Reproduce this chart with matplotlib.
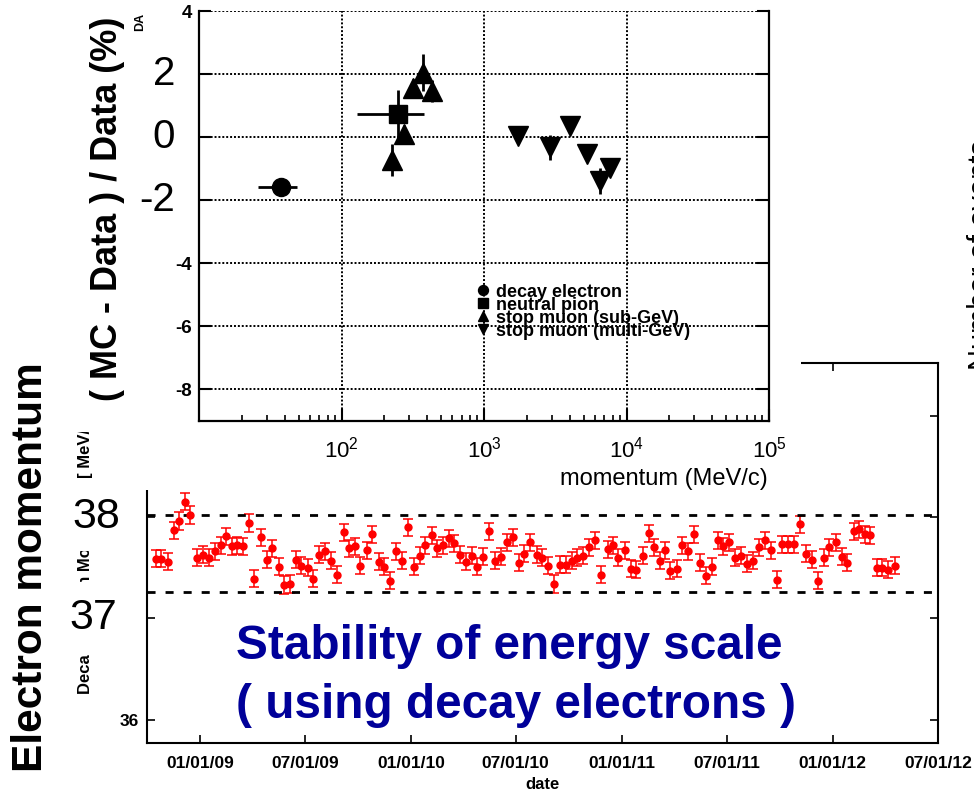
import numpy as np
import matplotlib
matplotlib.use("Agg")
import matplotlib.pyplot as plt
import matplotlib.dates as mdates
from matplotlib.patches import Rectangle
from matplotlib.transforms import blended_transform_factory

plt.rcParams['font.family'] = ['Liberation Sans', 'DejaVu Sans']
plt.rcParams['mathtext.fontset'] = 'custom'
plt.rcParams['mathtext.rm'] = 'Liberation Sans'
plt.rcParams['mathtext.it'] = 'Liberation Sans:italic'
plt.rcParams['mathtext.bf'] = 'Liberation Sans:bold'

# ---- top panel: (MC - Data)/Data vs momentum
e_p = [37.6]
e_plo = [25.9]
e_phi = [48.8]
e_d = [-1.58]
e_err = [0.15]

pi_p = [249]
pi_plo = [128.5]
pi_phi = [379]
pi_d = [0.73]
pi_err = [0.77]

sub_p = [226, 275, 318, 373, 431]
sub_d = [-0.72, 0.10, 1.55, 2.05, 1.45]
sub_err = [0.50, 0.30, 0.30, 0.60, 0.35]

mul_p = [1733, 2904, 4018, 5285, 6515, 7656]
mul_d = [0.03, -0.32, 0.35, -0.54, -1.39, -0.98]
mul_err = [0.15, 0.40, 0.20, 0.15, 0.40, 0.20]

# ---- bottom panel: decay electron momentum vs date
dates = [
    "2008-10-16", "2008-10-26", "2008-11-06", "2008-11-16", "2008-11-26", "2008-12-06", "2008-12-15", "2008-12-27",
    "2009-01-06", "2009-01-16", "2009-01-26", "2009-02-06", "2009-02-15", "2009-02-25", "2009-03-06", "2009-03-16", "2009-03-26",
    "2009-04-05", "2009-04-16", "2009-04-26", "2009-05-06", "2009-05-17", "2009-05-26", "2009-06-05", "2009-06-16", "2009-06-25",
    "2009-07-06", "2009-07-15", "2009-07-26", "2009-08-05", "2009-08-16", "2009-08-26", "2009-09-07", "2009-09-16", "2009-09-26",
    "2009-10-05", "2009-10-16", "2009-10-26", "2009-11-06", "2009-11-16", "2009-11-26", "2009-12-06", "2009-12-16", "2009-12-26",
    "2010-01-06", "2010-01-16", "2010-01-26", "2010-02-06", "2010-02-15", "2010-02-25", "2010-03-07", "2010-03-16", "2010-03-27",
    "2010-04-06", "2010-04-16", "2010-04-26", "2010-05-06", "2010-05-16", "2010-05-26", "2010-06-05", "2010-06-16", "2010-06-27",
    "2010-07-06", "2010-07-16", "2010-07-26", "2010-08-07", "2010-08-16", "2010-08-26", "2010-09-05", "2010-09-16", "2010-09-26",
    "2010-10-06", "2010-10-16", "2010-10-26", "2010-11-05", "2010-11-16", "2010-11-26", "2010-12-07", "2010-12-16", "2010-12-26",
    "2011-01-06", "2011-01-16", "2011-01-25", "2011-02-06", "2011-02-16", "2011-02-25", "2011-03-07", "2011-03-16", "2011-03-26",
    "2011-04-06", "2011-04-15", "2011-04-26", "2011-05-06", "2011-05-16", "2011-05-27", "2011-06-05", "2011-06-16", "2011-06-25",
    "2011-07-05", "2011-07-16", "2011-07-26", "2011-08-05", "2011-08-16", "2011-08-26", "2011-09-06", "2011-09-16", "2011-09-26",
    "2011-10-05", "2011-10-16", "2011-10-26", "2011-11-06", "2011-11-16", "2011-11-26", "2011-12-06", "2011-12-17", "2011-12-26",
    "2012-01-06", "2012-01-16", "2012-01-26", "2012-02-06", "2012-02-16", "2012-02-25", "2012-03-05", "2012-03-17", "2012-03-26",
    "2012-04-06", "2012-04-17"]
mom = [
    37.59, 37.59, 37.56, 37.87, 37.96, 38.15, 38.02, 37.60,
    37.63, 37.60, 37.66, 37.72, 37.81, 37.71, 37.72, 37.71, 37.94,
    37.39, 37.80, 37.58, 37.69, 37.51, 37.33, 37.34, 37.58, 37.52,
    37.50, 37.39, 37.63, 37.66, 37.57, 37.43, 37.85, 37.69, 37.71,
    37.52, 37.67, 37.83, 37.56, 37.51, 37.37, 37.66, 37.57, 37.90,
    37.51, 37.62, 37.72, 37.82, 37.69, 37.72, 37.79, 37.74, 37.63,
    37.56, 37.62, 37.51, 37.61, 37.86, 37.57, 37.61, 37.75, 37.80,
    37.55, 37.64, 37.75, 37.63, 37.60, 37.52, 37.34, 37.53, 37.53,
    37.57, 37.60, 37.62, 37.70, 37.77, 37.43, 37.68, 37.72, 37.60,
    37.67, 37.49, 37.48, 37.62, 37.84, 37.70, 37.57, 37.67, 37.47,
    37.49, 37.72, 37.66, 37.83, 37.55, 37.42, 37.51, 37.77, 37.71,
    37.75, 37.60, 37.62, 37.54, 37.57, 37.70, 37.77, 37.67, 37.38,
    37.73, 37.73, 37.73, 37.93, 37.64, 37.58, 37.37, 37.60, 37.70,
    37.75, 37.61, 37.55, 37.86, 37.88, 37.83, 37.82, 37.50, 37.50,
    37.48, 37.52]
mom_err = 0.085
band_hi = 38.02
band_lo = 37.26

W, H = 974, 795
fig = plt.figure(figsize=(W / 100, H / 100), dpi=100)


def box(x0, y0, x1, y1):
    # pixel box, origin top-left -> figure rect
    return [x0 / W, 1 - y1 / H, (x1 - x0) / W, (y1 - y0) / H]


ax2 = fig.add_axes(box(147, 363, 938, 743), zorder=0)
ax1 = fig.add_axes(box(199, 11, 769, 421), zorder=2)

# white areas of the pasted top picture
for r in [box(130, 0, 801, 490), box(60, 0, 130, 432)]:
    fig.patches.append(Rectangle((r[0], r[1]), r[2], r[3], transform=fig.transFigure,
                                 facecolor='white', edgecolor='none', zorder=1))

# ---------------- bottom panel
d = np.array(dates, dtype='datetime64[D]')
ax2.errorbar(d, mom, yerr=mom_err, fmt='o', color='red', ms=5,
             elinewidth=1.1, capsize=3.4, capthick=1.1)
ax2.axhline(band_hi, color='black', lw=2, ls=(0, (2.9, 3.6)))
ax2.axhline(band_lo, color='black', lw=2, ls=(0, (2.9, 3.6)))
ax2.set_xlim(np.datetime64('2008-10-01'), np.datetime64('2012-07-01'))
ax2.set_ylim(35.77, 39.52)
ax2.xaxis.set_major_locator(mdates.MonthLocator(bymonth=[1, 7]))
ax2.xaxis.set_major_formatter(mdates.DateFormatter('%m/%d/%y'))
ax2.set_yticks([36, 37, 38, 39])
ax2.set_yticklabels(['36', '', '', ''])
ax2.tick_params(direction='in', length=5.8, width=1.2, top=True, right=True,
                labelsize=12.5, pad=6)
ax2.tick_params(axis='x', pad=9)
for lab in ax2.get_xticklabels() + ax2.get_yticklabels():
    lab.set_fontweight('bold')
for s in ax2.spines.values():
    s.set_linewidth(1.5)
ax2.set_xlabel('date', fontsize=12, fontweight='bold', labelpad=5)
ax2.set_ylabel('Decay electron Momentum [ MeV/c ]', fontsize=12, fontweight='bold')
ax2.yaxis.set_label_coords(-0.068, 0.503)

tr2 = blended_transform_factory(ax2.transAxes, ax2.transData)
ax2.text(-0.034, 38, '38', transform=tr2, ha='right', va='center', fontsize=31,
         bbox=dict(facecolor='white', edgecolor='none', pad=10))
ax2.text(-0.038, 37, '37', transform=tr2, ha='right', va='center', fontsize=31,
         bbox=dict(facecolor='white', edgecolor='none', pad=12))

# ---------------- top panel
eb_e = ax1.errorbar(e_p, e_d, xerr=[np.subtract(e_p, e_plo), np.subtract(e_phi, e_p)],
                    yerr=e_err, fmt='o', color='black', ms=13, elinewidth=2, capsize=0)
eb_pi = ax1.errorbar(pi_p, pi_d, xerr=[np.subtract(pi_p, pi_plo), np.subtract(pi_phi, pi_p)],
                     yerr=pi_err, fmt='s', color='black', ms=13, elinewidth=2, capsize=0)
eb_sub = ax1.errorbar(sub_p, sub_d, yerr=sub_err, fmt='^', color='black', ms=14,
                      elinewidth=2, capsize=0)
eb_mul = ax1.errorbar(mul_p, mul_d, yerr=mul_err, fmt='v', color='black', ms=14,
                      elinewidth=2, capsize=0)

ax1.set_xscale('log')
ax1.set_xlim(10, 1e5)
ax1.set_ylim(-9, 4)
ax1.set_xticks([1e2, 1e3, 1e4, 1e5])
ax1.set_yticks([-8, -6, -4, -2, 0, 2, 4])
ax1.set_yticklabels(['-8', '-6', '-4', '', '', '', '4'])
ax1.grid(True, which='major', color='black', ls=(0, (1, 1)), lw=1.4)
ax1.spines['top'].set_visible(False)
for s in ['left', 'right', 'bottom']:
    ax1.spines[s].set_linewidth(1.6)
ax1.tick_params(which='major', direction='in', length=8.6, width=1.5, right=True,
                top=False, pad=5)
ax1.tick_params(which='minor', direction='in', length=4.3, width=1.2, top=False)
ax1.tick_params(axis='x', labelsize=16, pad=11)
ax1.tick_params(axis='y', labelsize=13.5)
for lab in ax1.get_yticklabels():
    lab.set_fontweight('bold')

tr1 = blended_transform_factory(ax1.transAxes, ax1.transData)
for v in [2, 0, -2]:
    ax1.text(-0.042, v, str(v), transform=tr1, ha='right', va='center', fontsize=29)

ax1.set_xlabel('momentum (MeV/c)', fontsize=17, ha='right')
ax1.xaxis.set_label_coords(0.998, -0.115)
ax1.set_ylabel('( MC - Data ) / Data (%)', fontsize=26, fontweight='bold')
ax1.yaxis.set_label_coords(-0.129, 0.517)

leg = ax1.legend([eb_e[0], eb_pi[0], eb_sub[0], eb_mul[0]],
                 ['decay electron', 'neutral pion', 'stop muon (sub-GeV)', 'stop muon (multi-GeV)'],
                 loc='upper left', bbox_to_anchor=(0.473, 0.357), frameon=False,
                 prop=dict(size=13, weight='bold'), markerscale=0.55,
                 handlelength=0.6, handletextpad=0.4, labelspacing=-0.22, borderpad=0)

# ---------------- slide overlay texts
fig.text(31 / W, 1 - 567 / H, 'Electron momentum', rotation=90, ha='center', va='center',
         fontsize=30.5, fontweight='bold')
fig.text(236 / W, 1 - 659 / H, 'Stability of energy scale', ha='left', va='baseline',
         fontsize=34.4, fontweight='bold', color='#000099')
fig.text(236 / W, 1 - 718 / H, '( using decay electrons )', ha='left', va='baseline',
         fontsize=34.4, fontweight='bold', color='#000099')
fig.text(967 / W, 1 - 255 / H, 'Number of events', rotation=90, ha='left', va='center',
         fontsize=21)
fig.text(140 / W, 1 - 22 / H, 'DA', rotation=90, ha='center', va='center',
         fontsize=9, fontweight='bold')

fig.savefig('out.png', dpi=100)
